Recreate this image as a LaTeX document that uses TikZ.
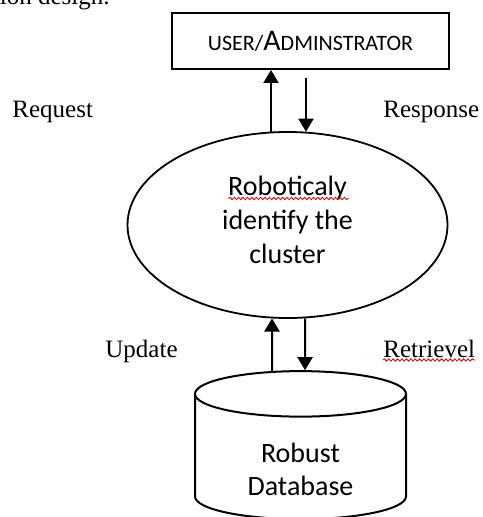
\documentclass[tikz,border=0pt]{standalone}
\usepackage{fontspec}
\setmainfont{Liberation Serif}
\newfontfamily\calibri{Carlito}
\usetikzlibrary{calc}
\usetikzlibrary{arrows.meta}
\usetikzlibrary{shapes.geometric}
\usetikzlibrary{decorations.pathmorphing}
\tikzset{lbl/.style={font=\fontsize{12.5}{15}\selectfont,inner sep=0pt}}
\tikzset{flow/.style={line width=1pt,-{Triangle[length=6.5pt,width=7.5pt]}}}
\tikzset{spell/.style={red!85!black,line width=0.4pt,decorate,decoration={snake,amplitude=0.6pt,segment length=2.2pt}}}

\begin{document}
\begin{tikzpicture}[x=0.5pt,y=-0.5pt]
\useasboundingbox (0,0) rectangle (482,517);

\node[lbl,anchor=base east] (cap) at (110,5) {tion design.};

\node[draw,line width=1pt,minimum width=138.5pt,minimum height=28pt,inner sep=0pt,font=\calibri] (user) at (310.5,41)
  {\fontsize{11}{13}\selectfont USER/\fontsize{15}{17}\selectfont A\fontsize{11}{13}\selectfont DMINSTRATOR};

\node[ellipse,draw,line width=0.9pt,minimum width=160pt,minimum height=93pt,inner sep=0pt] (robo) at (287.5,225) {};
\node[align=center,inner sep=0pt,font=\calibri\fontsize{14}{17}\selectfont] (robotxt) at ($(robo.center)+(0,-5)$)
  {Roboticaly\\identify the\\cluster};

\node[cylinder,shape border rotate=90,draw,line width=1pt,minimum width=105.5pt,minimum height=74pt,aspect=0.43,
  inner sep=0pt,font=\calibri\fontsize{14}{16.5}\selectfont] (db) at (300.5,457) {\phantom{Database}};
\node[align=center,inner sep=0pt,font=\calibri\fontsize{14}{16.5}\selectfont] (dbtxt) at ($(db.center)+(0,12)$) {Robust\\Database};

\node[lbl,anchor=base west] (req) at (12,118) {Request};
\node[lbl,anchor=base west] (resp) at (383,118) {Response};
\node[lbl,anchor=base west] (upd) at (105,357) {Update};
\node[lbl,anchor=base west] (retr) at (383,357) {Retrievel};

% request / response
\draw[flow] ($(robo.north)+(-16.5,0.5)$) -- ($(user.south)+(-39.5,0)$);
\draw[flow] ($(user.south)+(-4.5,8)$) -- ($(robo.north)+(18.5,0.6)$);
% update / retrievel
\draw[flow] ($(db.north)+(-28.5,0.8)$) -- ($(robo.south)+(-15.5,-0.4)$);
\draw[flow] ($(robo.south)+(17.5,-0.5)$) -- ($(db.north)+(4.5,0.1)$);

\draw[spell] ($(robo.center)+(-59,-26.5)$) -- ($(robo.center)+(61,-26.5)$);
\draw[spell] ($(retr.base west)+(0,3)$) -- ($(retr.base east)+(0,3)$);

\end{tikzpicture}
\end{document}
